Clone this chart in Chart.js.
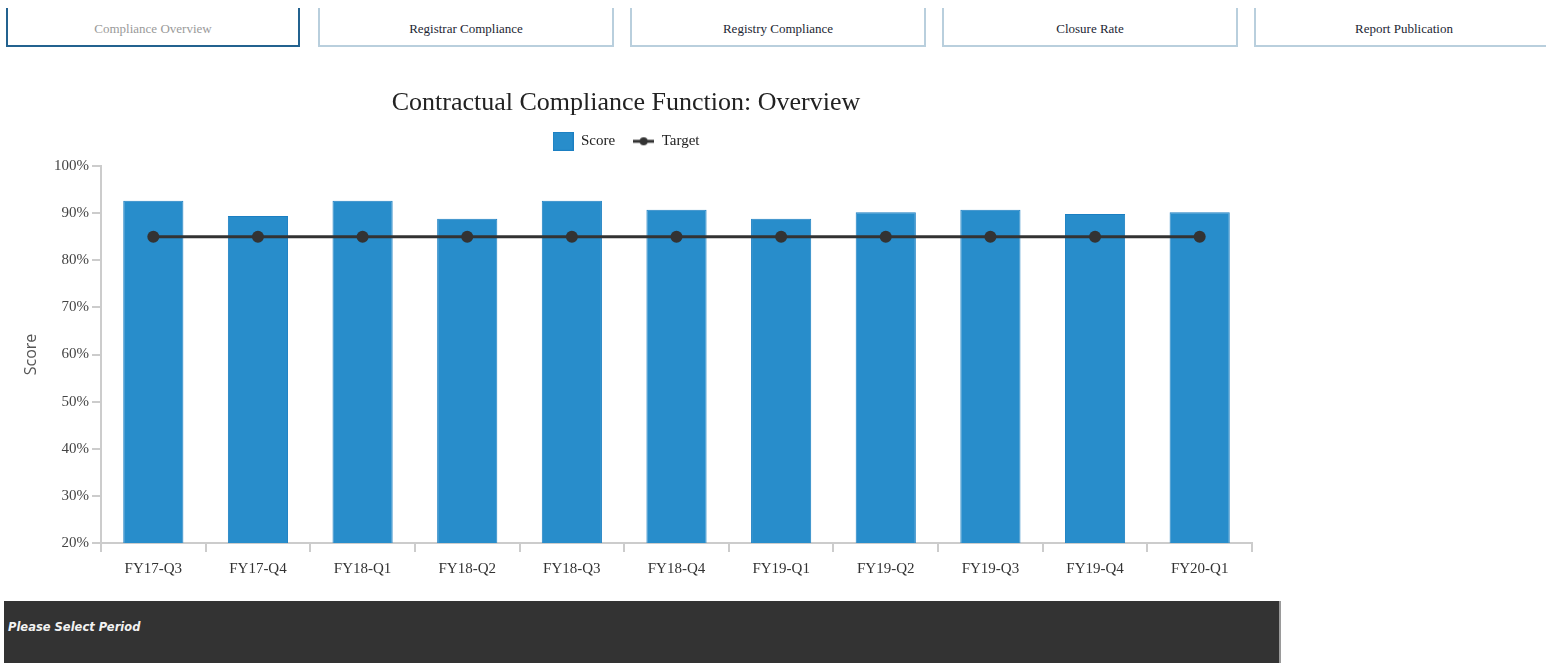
<!DOCTYPE html>
<html>
<head>
<meta charset="utf-8">
<script src="https://cdn.jsdelivr.net/npm/chart.js@4/dist/chart.umd.min.js"></script>
<style>
  html, body { margin: 0; padding: 0; background: #fff; width: 1546px; height: 663px; overflow: hidden; position: relative; }
  .tab { position: absolute; top: 8px; height: 39px; box-sizing: border-box; border: 2px solid #b9cfdd; border-top: none;
         font-family: "Liberation Serif", "Times New Roman", serif; font-size: 13px; color: #1c2633; text-align: center; line-height: 41px; }
  .tab.active { border-color: #23628f; color: #9a9a9a; }
  #wrap { position: absolute; left: 0; top: 60px; width: 1286px; height: 535px; }
  #panel { position: absolute; left: 4px; top: 601px; width: 1275px; height: 70px; background: #333333; border-right: 2px solid #9a9a9a; }
  #panel span { position: absolute; left: 4px; top: 19px; font-family: "DejaVu Sans", Verdana, sans-serif; font-weight: bold; font-style: italic; font-size: 11.5px; color: #f2f2f2; }
</style>
</head>
<body>
<div class="tab active" style="left:6px;width:294px;">Compliance Overview</div>
<div class="tab" style="left:318px;width:296px;">Registrar Compliance</div>
<div class="tab" style="left:630px;width:296px;">Registry Compliance</div>
<div class="tab" style="left:942px;width:296px;">Closure Rate</div>
<div class="tab" style="left:1254px;width:300px;">Report Publication</div>
<div id="wrap"><canvas id="c"></canvas></div>
<div id="panel"><span>Please Select Period</span></div>
<script>
const categories = ["FY17-Q3","FY17-Q4","FY18-Q1","FY18-Q2","FY18-Q3","FY18-Q4","FY19-Q1","FY19-Q2","FY19-Q3","FY19-Q4","FY20-Q1"];
const scoreValues = [92.6, 89.4, 92.6, 88.8, 92.6, 90.7, 88.8, 90.2, 90.7, 89.8, 90.2];
const targetValues = [85, 85, 85, 85, 85, 85, 85, 85, 85, 85, 85];
const yTicks = { min: 20, max: 100, step: 10 };

const BAR = '#288dcb', BAR_BORDER = '#1b7fc2', LINE = '#333333';
const SERIF = '"Liberation Serif", "Times New Roman", serif';

function scoreIcon() {
  const c = document.createElement('canvas'); c.width = 21; c.height = 19;
  const x = c.getContext('2d');
  x.fillStyle = BAR; x.fillRect(0, 0, 21, 19);
  x.strokeStyle = BAR_BORDER; x.lineWidth = 1; x.strokeRect(0.5, 0.5, 20, 18);
  return c;
}
function targetIcon() {
  const c = document.createElement('canvas'); c.width = 21; c.height = 10;
  const x = c.getContext('2d');
  x.strokeStyle = LINE; x.lineWidth = 3; x.beginPath(); x.moveTo(0, 5); x.lineTo(21, 5); x.stroke();
  x.fillStyle = LINE; x.beginPath(); x.arc(10.5, 5, 4, 0, Math.PI * 2); x.fill();
  return c;
}
const icons = { score: scoreIcon(), target: targetIcon() };

new Chart(document.getElementById('c'), {
  data: {
    labels: categories,
    datasets: [
      { type: 'line', label: 'Target', data: targetValues, borderColor: LINE, backgroundColor: LINE, borderWidth: 3,
        pointRadius: 6, pointHoverRadius: 6, pointBackgroundColor: LINE, pointBorderWidth: 0, tension: 0 },
      { type: 'bar', label: 'Score', data: scoreValues, backgroundColor: BAR, borderColor: BAR_BORDER, borderWidth: 1,
        categoryPercentage: 1.0, barPercentage: 0.575 }
    ]
  },
  options: {
    responsive: true, maintainAspectRatio: false, animation: false,
    layout: { padding: { left: 0, right: 34, top: 0, bottom: 0 } },
    plugins: {
      tooltip: { enabled: false },
      title: { display: true, text: 'Contractual Compliance Function: Overview', color: '#222',
               font: { family: SERIF, size: 26, weight: 'normal' }, padding: { top: 10, bottom: -3 } },
      subtitle: { display: true, text: ' ', weight: 500, font: { size: 1 }, padding: { top: 0, bottom: 6 } },
      legend: {
        display: true,
        labels: {
          usePointStyle: true, pointStyleWidth: 21, padding: 18, color: '#222',
          font: { family: SERIF, size: 15 },
          generateLabels: () => [
            { text: 'Score', pointStyle: icons.score, datasetIndex: 1, hidden: false, lineWidth: 0, fillStyle: BAR, strokeStyle: BAR, fontColor: '#222' },
            { text: 'Target', pointStyle: icons.target, datasetIndex: 0, hidden: false, lineWidth: 0, fillStyle: LINE, strokeStyle: LINE, fontColor: '#222' }
          ]
        }
      }
    },
    scales: {
      x: {
        grid: { display: true, drawOnChartArea: false, drawTicks: true, tickLength: 9, color: '#cccccc', lineWidth: 2, offset: true },
        border: { display: true, color: '#cccccc', width: 2 },
        ticks: { color: '#333', font: { family: SERIF, size: 15 }, padding: 8, maxRotation: 0 },
        afterFit: (s) => { s.height = 52; }
      },
      y: {
        min: yTicks.min, max: yTicks.max,
        grid: { display: true, drawOnChartArea: false, drawTicks: true, tickLength: 9, color: '#cccccc', lineWidth: 2 },
        border: { display: true, color: '#cccccc', width: 2 },
        ticks: { stepSize: yTicks.step, color: '#444', font: { family: SERIF, size: 15 }, padding: 3,
                 callback: (v) => v + '%' },
        title: { display: true, text: 'Score', color: '#555', font: { family: '"Open Sans", sans-serif', size: 16 }, padding: { top: 22, bottom: 8 } },
        afterFit: (s) => { s.width = 101; s.paddingTop = 106; }
      }
    }
  }
});
</script>
</body>
</html>
